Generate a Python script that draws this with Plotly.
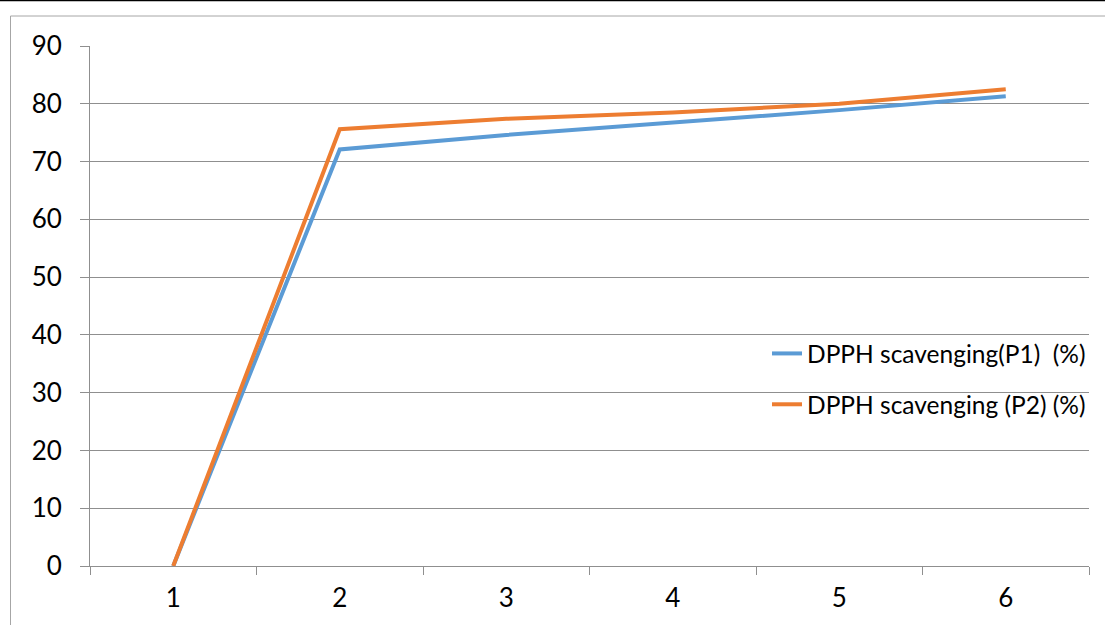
import plotly.graph_objects as go

categories = ["1", "2", "3", "4", "5", "6"]
p1_values = [0, 72.1, 74.6, 76.8, 78.9, 81.3]
p2_values = [0, 75.6, 77.4, 78.5, 80.0, 82.5]
series_names = ["DPPH scavenging(P1)  (%)", "DPPH scavenging (P2) (%)"]
y_ticks = [0, 10, 20, 30, 40, 50, 60, 70, 80, 90]

W, H = 1105, 625
ml, mr, mt, mb = 90, 16, 46, 59
pw, ph = W - ml - mr, H - mt - mb

def px_x(p):
    return (p - ml) / pw

def px_y(p):
    return (H - mb - p) / ph

fig = go.Figure()
fig.add_trace(go.Scatter(x=categories, y=p1_values, mode="lines", name=series_names[0],
                         line=dict(color="#5B9BD5", width=4), legendgroup="a"))
fig.add_trace(go.Scatter(x=categories, y=p2_values, mode="lines", name=series_names[1],
                         line=dict(color="#ED7D31", width=4), legendgroup="b"))

font_family = "Lato, 'Open Sans', sans-serif"
tick_font = dict(family=font_family, size=26, color="#000000")

fig.update_layout(
    width=W, height=H,
    margin=dict(l=ml, r=mr, t=mt, b=mb, autoexpand=False),
    paper_bgcolor="white", plot_bgcolor="white",
    font=dict(family=font_family, size=24, color="#000000"),
    showlegend=True,
    legend=dict(x=px_x(767), y=px_y(331), xanchor="left", yanchor="top",
                bgcolor="rgba(0,0,0,0)", tracegroupgap=16,
                font=dict(size=24.5, family=font_family)),
    xaxis=dict(type="category", tickson="boundaries", ticks="outside", ticklen=8,
               tickcolor="#8f8f8f", showgrid=False, showline=True, linecolor="#8f8f8f",
               linewidth=1, zeroline=False, ticklabelstandoff=9, tickfont=tick_font,
               automargin=False, range=[-0.5, 5.5], fixedrange=True),
    yaxis=dict(range=[0, 90], tickvals=y_ticks, ticks="outside", ticklen=9,
               tickcolor="#8f8f8f", showgrid=True, gridcolor="#8f8f8f", gridwidth=1,
               showline=True, linecolor="#8f8f8f", linewidth=1, zeroline=False,
               automargin=False, ticklabelstandoff=13, tickfont=tick_font),
    shapes=[
        dict(type="line", xref="paper", yref="paper", x0=px_x(0), x1=px_x(W),
             y0=px_y(0.5), y1=px_y(0.5), line=dict(color="#000000", width=1.5)),
        dict(type="rect", xref="paper", yref="paper", x0=px_x(10.5), x1=px_x(W + 20),
             y0=px_y(H + 20), y1=px_y(16), line=dict(color="#a6a6a6", width=1),
             layer="below"),
    ],
)

fig.write_html("out.html")
